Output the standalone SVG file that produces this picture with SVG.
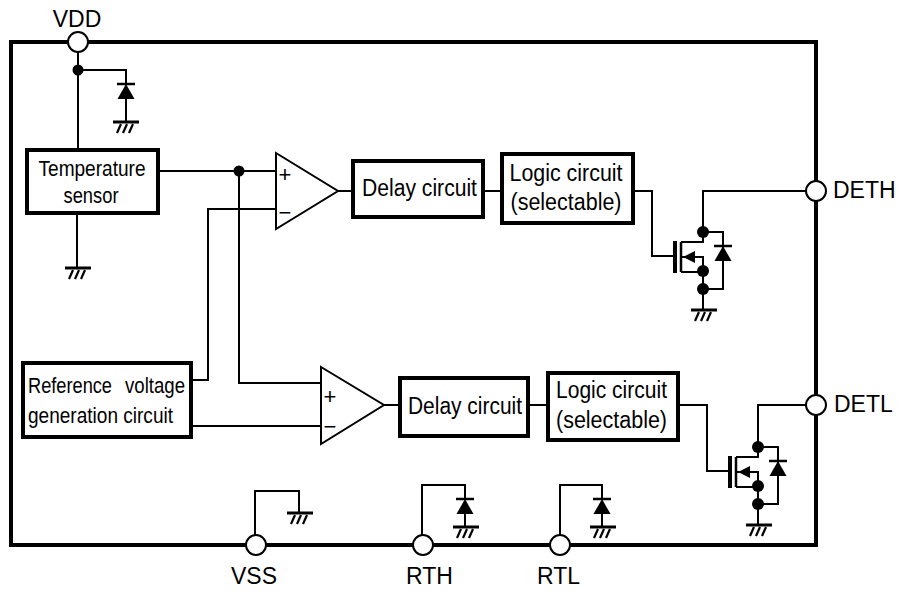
<svg xmlns="http://www.w3.org/2000/svg" width="901" height="591" viewBox="0 0 901 591">
<style>
.w{fill:none;stroke:#000;stroke-width:2}
.box{fill:#fff;stroke:#000;stroke-width:4}
.cmp{fill:#fff;stroke:#000;stroke-width:2}
.pin{fill:#fff;stroke:#000;stroke-width:2}
.dot{fill:#000}
.t{font-family:"Liberation Sans",Arial,sans-serif;fill:#000}
.bt{font-size:23px;text-anchor:middle}
.st{font-size:21.5px}
.pl{font-size:23px}
.sg{font-size:22px;text-anchor:middle}
</style>
<defs>
<g id="gnd"><path d="M-13,0H13" stroke="#000" stroke-width="3" fill="none"/><path d="M-5,2L-9,11M1,2L-3,11M7,2L3,11" stroke="#000" stroke-width="2.2" fill="none"/></g>
<g id="dio"><path d="M-9,0H9" stroke="#000" stroke-width="2.5" fill="none"/><path d="M0,0L8.5,15H-8.5Z" fill="#000"/></g>
<g id="mos">
<path d="M675,241V273" stroke="#000" stroke-width="4" fill="none"/>
<path d="M681,242V272" stroke="#000" stroke-width="2.5" fill="none"/>
<path class="w" d="M681,242H703V232M681,257H703V271M681,272H703M703,271V310M703,232H723V289H703"/>
<path d="M683,257L695,251V263Z" fill="#000"/>
<use href="#dio" x="723" y="246"/>
<circle class="dot" cx="703" cy="232" r="6"/>
<circle class="dot" cx="703" cy="271" r="6"/>
<circle class="dot" cx="703" cy="289" r="6"/>
<use href="#gnd" x="704" y="310"/>
</g>
</defs>
<rect width="901" height="591" fill="#fff"/>
<g id="package"><rect x="11" y="42" width="805" height="503" fill="none" stroke="#000" stroke-width="4"/></g>
<g id="connectors">
<path class="w" d="M78,52V150M78,70H126V84M126,99V122"/>
<path class="w" d="M77,213V268"/>
<path class="w" d="M158,171H276M239,171V383H321"/>
<path class="w" d="M191,380H208V209H276"/>
<path class="w" d="M191,426H321"/>
<path class="w" d="M338,191H353M483,191H502M633,191H652V256H675"/>
<path class="w" d="M384,405H400M528,405H548M678,405H707V471H730"/>
<path class="w" d="M703,232V191H806M758,447V405H806"/>
<path class="w" d="M255,535V491H299V513"/>
<path class="w" d="M422,535V485H465V499M465,514V527"/>
<path class="w" d="M560,535V485H602V499M602,514V527"/>
<circle class="dot" cx="78" cy="70" r="5.5"/>
<circle class="dot" cx="239" cy="171" r="5.5"/>
<use href="#dio" x="126" y="84"/>
<use href="#gnd" x="126" y="122"/>
<use href="#gnd" x="78" y="268"/>
<use href="#gnd" x="300" y="513"/>
<use href="#dio" x="465" y="499"/>
<use href="#gnd" x="466" y="527"/>
<use href="#dio" x="602" y="499"/>
<use href="#gnd" x="603" y="527"/>
</g>
<g id="temp-sensor"><rect class="box" x="27" y="150" width="131" height="63"/>
<text class="t st" x="92" y="176" text-anchor="middle" textLength="107" lengthAdjust="spacingAndGlyphs">Temperature</text>
<text class="t st" x="91" y="203" text-anchor="middle" textLength="55" lengthAdjust="spacingAndGlyphs">sensor</text></g>
<g id="ref-voltage"><rect class="box" x="23" y="363" width="168" height="74"/>
<text class="t st" x="28" y="393" textLength="84" lengthAdjust="spacingAndGlyphs">Reference</text>
<text class="t st" x="185" y="393" text-anchor="end" textLength="60" lengthAdjust="spacingAndGlyphs">voltage</text>
<text class="t st" x="28" y="423" textLength="145" lengthAdjust="spacingAndGlyphs">generation circuit</text></g>
<g id="comp-h"><polygon class="cmp" points="276,153 338,191 276,229"/>
<text class="t sg" x="285" y="182">+</text><text class="t sg" x="285" y="220">−</text></g>
<g id="comp-l"><polygon class="cmp" points="321,367 384,405 321,444"/>
<text class="t sg" x="330" y="404">+</text><text class="t sg" x="330" y="434">−</text></g>
<g id="delay-h"><rect class="box" x="353" y="161" width="130" height="56"/>
<text class="t bt" x="419.5" y="196" textLength="115" lengthAdjust="spacingAndGlyphs">Delay circuit</text></g>
<g id="logic-h"><rect class="box" x="502" y="154" width="131" height="69"/>
<text class="t bt" x="566" y="181" textLength="113" lengthAdjust="spacingAndGlyphs">Logic circuit</text>
<text class="t bt" x="566" y="210" textLength="111" lengthAdjust="spacingAndGlyphs">(selectable)</text></g>
<g id="delay-l"><rect class="box" x="400" y="378" width="128" height="58"/>
<text class="t bt" x="465" y="414" textLength="114" lengthAdjust="spacingAndGlyphs">Delay circuit</text></g>
<g id="logic-l"><rect class="box" x="548" y="373" width="130" height="67"/>
<text class="t bt" x="611.5" y="398" textLength="111" lengthAdjust="spacingAndGlyphs">Logic circuit</text>
<text class="t bt" x="611.5" y="428" textLength="111" lengthAdjust="spacingAndGlyphs">(selectable)</text></g>
<g id="mosfet-h"><use href="#mos"/></g>
<g id="mosfet-l"><use href="#mos" transform="translate(55,215)"/></g>
<g id="pin-vdd"><circle class="pin" cx="78" cy="42" r="10"/><text class="t pl" x="77" y="27" text-anchor="middle">VDD</text></g>
<g id="pin-deth"><circle class="pin" cx="816" cy="191" r="10"/><text class="t pl" x="833" y="198">DETH</text></g>
<g id="pin-detl"><circle class="pin" cx="816" cy="405" r="10"/><text class="t pl" x="834" y="412">DETL</text></g>
<g id="pin-vss"><circle class="pin" cx="256" cy="545" r="10"/><text class="t pl" x="254" y="584" text-anchor="middle">VSS</text></g>
<g id="pin-rth"><circle class="pin" cx="423" cy="545" r="10"/><text class="t pl" x="429.5" y="584" text-anchor="middle">RTH</text></g>
<g id="pin-rtl"><circle class="pin" cx="560" cy="545" r="10"/><text class="t pl" x="558.5" y="584" text-anchor="middle">RTL</text></g>
</svg>
